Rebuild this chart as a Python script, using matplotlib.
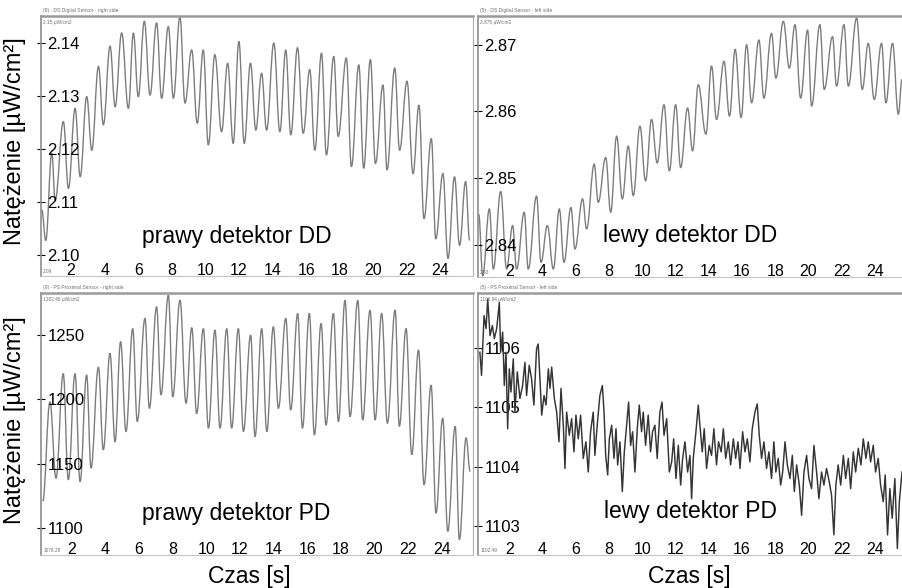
import matplotlib.pyplot as plt
from matplotlib.path import Path
from matplotlib.patches import PathPatch

plt.rcParams['font.family'] = ['Liberation Sans', 'DejaVu Sans']

# --- dane (ekstrema przebiegów) ---
dd_right_t = [0.26, 0.49, 0.85, 1.05, 1.54, 1.84, 2.24, 2.54, 2.93, 3.23,
              3.63, 3.92, 4.32, 4.62, 5.01, 5.41, 5.71, 6.00, 6.36, 6.70,
              7.09, 7.39, 7.79, 8.09, 8.48, 8.78, 9.18, 9.51, 9.87, 10.17,
              10.56, 10.96, 11.32, 11.65, 11.99, 12.31, 12.68, 13.00, 13.34, 13.64,
              14.07, 14.43, 14.78, 15.08, 15.48, 15.82, 16.21, 16.51, 16.91, 17.20,
              17.64, 17.90, 18.39, 18.69, 19.13, 19.42, 19.82, 20.12, 20.57, 20.81,
              21.27, 21.56, 22.00, 22.36, 22.71, 23.01, 23.45, 23.71, 24.14, 24.44,
              24.83, 25.13, 25.49, 25.73]
dd_right_v = [2.1085, 2.1028, 2.1192, 2.1104, 2.1252, 2.1126, 2.1277, 2.1148, 2.1299, 2.1198,
              2.1356, 2.1246, 2.1394, 2.1280, 2.1419, 2.1277, 2.1419, 2.1299, 2.1441, 2.1302,
              2.1438, 2.1296, 2.1431, 2.1296, 2.1450, 2.1287, 2.1387, 2.1249, 2.1387, 2.1208,
              2.1378, 2.1233, 2.1362, 2.1211, 2.1403, 2.1211, 2.1362, 2.1236, 2.1343, 2.1236,
              2.1400, 2.1233, 2.1387, 2.1227, 2.1391, 2.1230, 2.1350, 2.1198, 2.1381, 2.1189,
              2.1375, 2.1224, 2.1372, 2.1167, 2.1359, 2.1164, 2.1369, 2.1173, 2.1321, 2.1161,
              2.1353, 2.1198, 2.1328, 2.1154, 2.1283, 2.1069, 2.1220, 2.1031, 2.1154, 2.0994,
              2.1148, 2.1019, 2.1139, 2.1028]

dd_left_t = [0.16, 0.40, 0.80, 1.04, 1.48, 1.84, 2.20, 2.44, 2.90, 3.14,
             3.64, 3.91, 4.29, 4.65, 5.01, 5.29, 5.71, 5.95, 6.41, 6.65,
             7.11, 7.35, 7.80, 8.10, 8.46, 8.80, 9.16, 9.46, 9.86, 10.20,
             10.56, 10.90, 11.31, 11.63, 12.01, 12.31, 12.73, 13.03, 13.37, 13.83,
             14.17, 14.47, 14.92, 15.25, 15.59, 15.95, 16.28, 16.58, 17.02, 17.32,
             17.78, 18.04, 18.49, 18.85, 19.19, 19.53, 19.95, 20.19, 20.69, 20.95,
             21.45, 21.69, 22.14, 22.40, 22.90, 23.24, 23.60, 23.96, 24.40, 24.66,
             25.06, 25.41, 25.63]
dd_left_v = [2.8446, 2.8354, 2.8454, 2.8364, 2.8480, 2.8364, 2.8429, 2.8364, 2.8449, 2.8364,
             2.8473, 2.8374, 2.8429, 2.8364, 2.8454, 2.8374, 2.8456, 2.8394, 2.8469, 2.8424,
             2.8521, 2.8464, 2.8531, 2.8449, 2.8563, 2.8469, 2.8548, 2.8474, 2.8578, 2.8496,
             2.8588, 2.8523, 2.8610, 2.8511, 2.8610, 2.8516, 2.8605, 2.8541, 2.8640, 2.8566,
             2.8668, 2.8588, 2.8675, 2.8593, 2.8693, 2.8591, 2.8700, 2.8613, 2.8707, 2.8620,
             2.8717, 2.8650, 2.8735, 2.8665, 2.8730, 2.8620, 2.8722, 2.8608, 2.8730, 2.8633,
             2.8712, 2.8638, 2.8730, 2.8638, 2.8740, 2.8633, 2.8702, 2.8618, 2.8702, 2.8613,
             2.8702, 2.8596, 2.8648]

pd_right_t = [0.28, 0.71, 1.07, 1.50, 1.80, 2.20, 2.50, 2.89, 3.15, 3.59,
              3.88, 4.28, 4.58, 4.91, 5.23, 5.63, 5.90, 6.36, 6.62, 7.05,
              7.31, 7.75, 8.01, 8.44, 8.80, 9.14, 9.43, 9.83, 10.13, 10.52,
              10.82, 11.22, 11.51, 11.91, 12.21, 12.64, 12.90, 13.30, 13.60, 13.99,
              14.29, 14.73, 15.02, 15.44, 15.72, 16.13, 16.43, 16.83, 17.12, 17.56,
              17.86, 18.25, 18.55, 19.01, 19.30, 19.74, 20.04, 20.43, 20.77, 21.23,
              21.48, 21.88, 22.22, 22.62, 22.95, 23.37, 23.66, 24.06, 24.36, 24.80,
              25.05, 25.45, 25.69]
pd_right_v = [1120.7, 1198, 1138.8, 1220, 1137.5, 1220, 1136, 1219, 1146.6, 1225,
              1160.8, 1235.8, 1167, 1244.8, 1175, 1255, 1182.8, 1263, 1193, 1272,
              1203.5, 1281, 1202, 1277, 1197, 1255.7, 1189, 1255, 1177.6, 1253.9,
              1177.6, 1255, 1177.6, 1255, 1175, 1250, 1171, 1255, 1175, 1256.5,
              1193, 1263, 1191.8, 1266.8, 1177.6, 1266.8, 1172.4, 1259, 1180, 1266.8,
              1182.8, 1277, 1186.6, 1277, 1184, 1269.4, 1184, 1266.8, 1181.5, 1269.4,
              1179, 1255, 1157, 1238.4, 1133.6, 1211, 1111.6, 1185.4, 1097.4, 1179,
              1091, 1170, 1144]

pd_left_t = [0.23, 0.33, 0.48, 0.60, 0.70, 0.84, 0.98, 1.10, 1.24, 1.40,
             1.48, 1.60, 1.70, 1.80, 1.90, 2.00, 2.10, 2.24, 2.34, 2.48,
             2.64, 2.80, 2.94, 3.04, 3.20, 3.34, 3.48, 3.64, 3.74, 3.84,
             3.95, 4.09, 4.21, 4.35, 4.45, 4.55, 4.71, 4.85, 4.99, 5.11,
             5.25, 5.35, 5.45, 5.61, 5.75, 5.89, 6.01, 6.15, 6.29, 6.45,
             6.61, 6.75, 6.89, 7.05, 7.15, 7.29, 7.45, 7.60, 7.70, 7.80,
             7.92, 8.02, 8.16, 8.30, 8.42, 8.52, 8.66, 8.80, 8.92, 9.06,
             9.18, 9.30, 9.42, 9.56, 9.70, 9.82, 9.96, 10.06, 10.20, 10.36,
             10.50, 10.62, 10.76, 10.90, 11.06, 11.19, 11.31, 11.47, 11.63, 11.77,
             11.89, 12.03, 12.17, 12.31, 12.43, 12.57, 12.73, 12.87, 12.97, 13.07,
             13.23, 13.37, 13.47, 13.61, 13.73, 13.87, 14.03, 14.17, 14.31, 14.47,
             14.59, 14.75, 14.88, 15.02, 15.18, 15.32, 15.48, 15.62, 15.76, 15.88,
             16.04, 16.18, 16.32, 16.48, 16.62, 16.78, 16.92, 17.04, 17.18, 17.32,
             17.48, 17.62, 17.78, 17.92, 18.04, 18.18, 18.33, 18.45, 18.59, 18.73,
             18.89, 19.03, 19.15, 19.29, 19.45, 19.59, 19.73, 19.89, 20.03, 20.19,
             20.33, 20.49, 20.63, 20.79, 20.93, 21.09, 21.25, 21.39, 21.53, 21.65,
             21.79, 21.94, 22.10, 22.24, 22.40, 22.54, 22.70, 22.84, 23.00, 23.16,
             23.30, 23.46, 23.60, 23.74, 23.90, 24.04, 24.20, 24.34, 24.50, 24.62,
             24.76, 24.90, 25.04, 25.20, 25.35, 25.47, 25.63]
pd_left_v = [1105.93, 1105.54, 1106.55, 1106.33, 1106.83, 1106.21, 1106.38, 1106.16, 1106.33, 1106.77,
             1105.93, 1106.27, 1105.37, 1105.93, 1104.64, 1105.65, 1105.26, 1105.82, 1104.92, 1105.60,
             1105.15, 1105.37, 1105.76, 1105.20, 1105.71, 1105.48, 1105.04, 1105.99, 1106.07, 1105.48,
             1104.87, 1105.20, 1105.04, 1105.65, 1105.32, 1105.68, 1105.15, 1104.92, 1104.42, 1105.32,
             1104.70, 1103.97, 1104.92, 1104.53, 1104.81, 1104.25, 1104.87, 1104.47, 1104.87, 1104.14,
             1104.42, 1103.91, 1104.59, 1104.92, 1104.19, 1104.70, 1105.20, 1105.37, 1104.92, 1104.19,
             1103.86, 1104.47, 1104.70, 1104.14, 1104.64, 1104.03, 1104.42, 1103.58, 1104.25, 1104.70,
             1105.09, 1104.36, 1104.59, 1103.91, 1104.64, 1105.04, 1104.59, 1104.92, 1104.36, 1104.87,
             1104.25, 1104.59, 1104.70, 1104.14, 1104.92, 1105.09, 1104.53, 1104.81, 1103.91, 1104.08,
             1104.47, 1103.80, 1104.36, 1103.69, 1104.14, 1104.42, 1103.91, 1104.19, 1103.46, 1104.14,
             1104.59, 1105.04, 1104.70, 1104.25, 1104.64, 1103.97, 1104.36, 1104.19, 1104.64, 1104.03,
             1104.42, 1104.25, 1104.64, 1104.14, 1104.42, 1104.03, 1104.47, 1104.14, 1104.42, 1103.97,
             1104.59, 1104.25, 1104.47, 1104.08, 1104.64, 1104.92, 1105.06, 1104.53, 1104.14, 1104.42,
             1103.97, 1104.25, 1103.80, 1104.42, 1103.91, 1104.14, 1103.69, 1103.91, 1104.42, 1104.03,
             1103.80, 1104.19, 1103.58, 1104.03, 1103.69, 1103.18, 1103.91, 1104.19, 1103.80, 1103.63,
             1104.36, 1103.91, 1103.46, 1103.91, 1103.69, 1103.97, 1103.75, 1103.52, 1102.85, 1103.69,
             1104.03, 1103.69, 1104.19, 1103.80, 1104.14, 1103.63, 1104.25, 1103.91, 1104.31, 1104.03,
             1104.47, 1104.14, 1104.42, 1104.08, 1104.36, 1103.91, 1104.14, 1103.69, 1103.41, 1103.86,
             1102.85, 1103.63, 1103.13, 1103.80, 1102.62, 1103.41, 1103.91]

x_ticks = [2, 4, 6, 8, 10, 12, 14, 16, 18, 20, 22, 24]
dd_right_ticks = [2.10, 2.11, 2.12, 2.13, 2.14]
dd_left_ticks = [2.84, 2.85, 2.86, 2.87]
pd_right_ticks = [1100, 1150, 1200, 1250]
pd_left_ticks = [1103, 1104, 1105, 1106]

panel_names = ['prawy detektor DD', 'lewy detektor DD', 'prawy detektor PD', 'lewy detektor PD']
headers = ['(9) - DS Digital Sensor - right side', '(5) - DS Digital Sensor - left side',
           '(9) - PS Proximal Sensor - right side', '(5) - PS Proximal Sensor - left side']
top_units = ['2.15 µW/cm2', '2.875 µW/cm2', '1282.48 µW/cm2', '1106.94 µW/cm2']
low_units = ['2.09', '2.83', '1078.28', '1102.49']


def smooth_wave(ax, t, v, color, lw):
    # gładka krzywa przez kolejne ekstrema (poziome styczne w szczytach)
    verts = [(t[0], v[0])]
    codes = [Path.MOVETO]
    for i in range(1, len(t)):
        dt = t[i] - t[i - 1]
        verts += [(t[i - 1] + 0.4 * dt, v[i - 1]), (t[i] - 0.4 * dt, v[i]), (t[i], v[i])]
        codes += [Path.CURVE4] * 3
    ax.add_patch(PathPatch(Path(verts, codes), facecolor='none', edgecolor=color, lw=lw))


def draw_panel(rect, t, v, xlim, ylim, yticks, yfmt, name, name_xy, header, unit, low,
               color='#7d7d7d', lw=1.0, right_spine=True, smooth=True):
    ax = fig.add_axes(rect)
    if smooth:
        smooth_wave(ax, t, v, color, lw)
    else:
        ax.plot(t, v, color=color, lw=lw)
    ax.set_xlim(*xlim)
    ax.set_ylim(*ylim)
    ax.set_xticks(x_ticks)
    ax.set_yticks(yticks, [yfmt.format(y) for y in yticks])
    ax.tick_params(axis='x', length=0, pad=-9.6, labelsize=11.5)
    ax.tick_params(axis='y', direction='inout', length=6, width=0.8,
                   pad=-7.6, labelsize=12.0)
    for lbl in ax.get_yticklabels():
        lbl.set_horizontalalignment('left')
    ax.spines['left'].set_color('#8c8c8c')
    ax.spines['left'].set_linewidth(1.2)
    ax.spines['top'].set_color('#9a9a9a')
    ax.spines['top'].set_linewidth(1.8)
    ax.spines['bottom'].set_color('#c4c4c4')
    ax.spines['bottom'].set_linestyle((0, (2, 1)))
    ax.spines['right'].set_color('#b0b0b0')
    ax.spines['right'].set_linewidth(0.8)
    ax.spines['right'].set_visible(right_spine)
    ax.text(name_xy[0], name_xy[1], name, transform=ax.transAxes,
            ha='center', va='baseline', fontsize=16.5)
    ax.text(0.005, 1.012, header, transform=ax.transAxes, fontsize=3.6,
            color='#707070', va='bottom')
    ax.text(0.005, 0.985, unit, transform=ax.transAxes, fontsize=3.4,
            color='#707070', va='top')
    ax.text(0.005, 0.006, low, transform=ax.transAxes, fontsize=3.4,
            color='#707070', va='bottom')
    return ax


fig = plt.figure(figsize=(9.02, 5.88), dpi=100)

draw_panel([0.0455, 0.5306, 0.4789, 0.4422], dd_right_t, dd_right_v, (0.21, 25.93),
           (2.0961, 2.1451), dd_right_ticks, '{:.2f}', panel_names[0], (0.454, 0.127),
           headers[0], top_units[0], low_units[0])
draw_panel([0.530, 0.5289, 0.470, 0.4439], dd_left_t, dd_left_v, (0.12, 25.63),
           (2.8352, 2.8743), dd_left_ticks, '{:.2f}', panel_names[1], (0.50, 0.134),
           headers[1], top_units[1], low_units[1], right_spine=False)
draw_panel([0.0455, 0.0561, 0.4789, 0.4456], pd_right_t, pd_right_v, (0.18, 25.86),
           (1079, 1282.7), pd_right_ticks, '{:.0f}', panel_names[2], (0.451, 0.134),
           headers[2], top_units[2], low_units[2])
draw_panel([0.530, 0.0561, 0.470, 0.4456], pd_left_t, pd_left_v, (0.12, 25.63),
           (1102.51, 1106.93), pd_left_ticks, '{:.0f}', panel_names[3], (0.50, 0.141),
           headers[3], top_units[3], low_units[3], color='#343434', lw=1.05,
           right_spine=False, smooth=False)

ylabel = 'Natężenie [µW/cm²]'
fig.text(0.0166, 0.760, ylabel, rotation=90, ha='center', va='center', fontsize=17)
fig.text(0.0166, 0.286, ylabel, rotation=90, ha='center', va='center', fontsize=17)
fig.text(0.276, 0.0204, 'Czas [s]', ha='center', va='center', fontsize=16.5)
fig.text(0.764, 0.0204, 'Czas [s]', ha='center', va='center', fontsize=16.5)

fig.savefig('out.png', dpi=100)
